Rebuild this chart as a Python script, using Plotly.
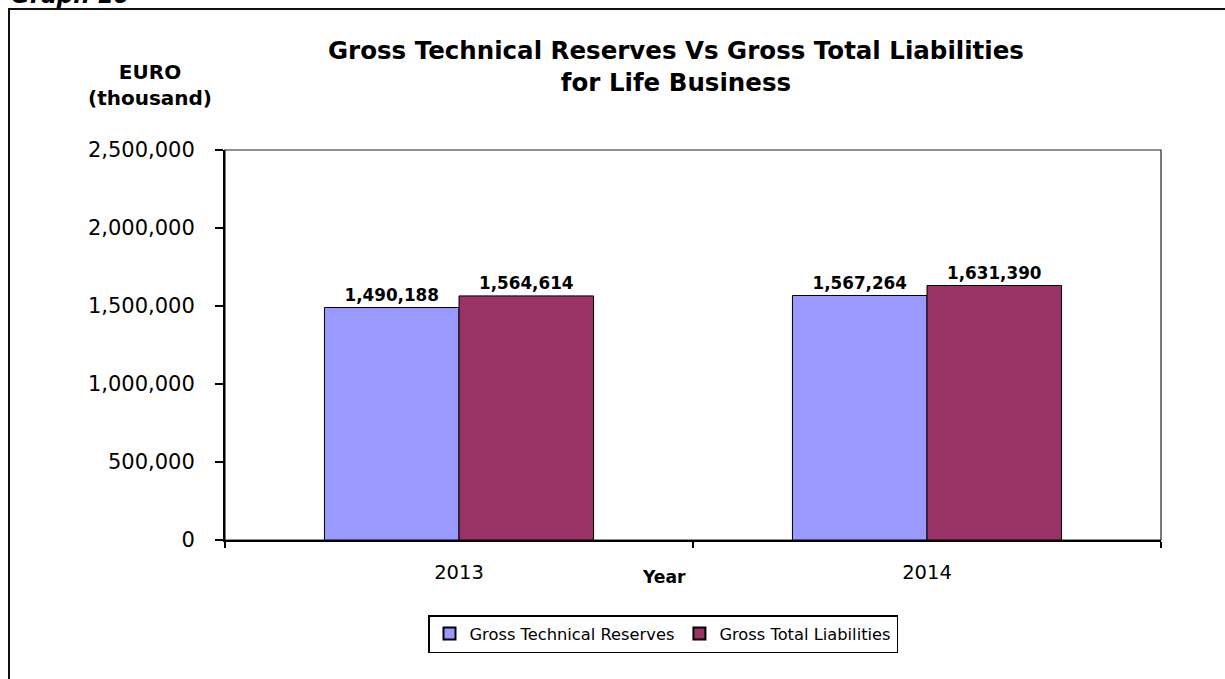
import plotly.graph_objects as go

# Life business figures, EURO thousand
years = ["2013", "2014"]
technical_reserves = [1490188, 1567264]
total_liabilities = [1564614, 1631390]

series_names = ["Gross Technical Reserves", "Gross Total Liabilities"]
series_colors = ["#9999FF", "#993366"]

y_ticks = [0, 500000, 1000000, 1500000, 2000000, 2500000]

FONT = "DejaVu Sans"

# Figure geometry in pixels (used to express outside items in paper units)
W, H = 1225, 679
L, R, T, B = 225, 64, 150, 139
PW, PH = W - L - R, H - T - B


def px_x(x):
    return (x - L) / PW


def px_y(y):
    return (H - B - y) / PH


fig = go.Figure()
for name, vals, color in zip(series_names, [technical_reserves, total_liabilities], series_colors):
    fig.add_trace(go.Bar(
        x=years,
        y=vals,
        name=name,
        marker=dict(color=color, line=dict(color="#000000", width=1)),
        texttemplate="%{y:,}",
        textposition="outside",
        textfont=dict(family=FONT, size=16.8, color="#000000", weight="bold"),
        cliponaxis=False,
    ))

fig.update_layout(
    width=W,
    height=H,
    margin=dict(l=L, r=R, t=T, b=B, pad=0),
    paper_bgcolor="#FFFFFF",
    plot_bgcolor="#FFFFFF",
    font=dict(family=FONT, color="#000000"),
    barmode="group",
    bargap=0.425,
    bargroupgap=0,
    showlegend=True,
    legend=dict(
        orientation="h",
        x=px_x(663),
        xanchor="center",
        y=px_y(615),
        yanchor="top",
        bordercolor="#000000",
        borderwidth=1.5,
        bgcolor="#FFFFFF",
        font=dict(family=FONT, size=16.3, color="#000000"),
        itemsizing="constant",
    ),
)

fig.update_xaxes(
    type="category",
    showline=True,
    linecolor="#000000",
    linewidth=2,
    ticks="outside",
    tickson="boundaries",
    ticklen=6,
    tickwidth=1.5,
    tickcolor="#000000",
    ticklabelstandoff=14,
    tickfont=dict(family=FONT, size=19.5, color="#000000"),
    showgrid=False,
    zeroline=False,
)

fig.update_yaxes(
    range=[0, 2500000],
    tickvals=y_ticks,
    tickformat=",",
    showline=True,
    linecolor="#000000",
    linewidth=2,
    ticks="outside",
    ticklen=8,
    tickwidth=1.5,
    tickcolor="#000000",
    ticklabelstandoff=16,
    tickfont=dict(family=FONT, size=21, color="#000000"),
    showgrid=False,
    zeroline=False,
)

# Plot area border (top and right edges)
fig.add_shape(type="rect", xref="paper", yref="paper", x0=0, x1=1, y0=0, y1=1,
              line=dict(color="#222222", width=1.2), layer="below")

# Outer chart frame
fig.add_shape(type="rect", xref="paper", yref="paper",
              x0=px_x(9), x1=px_x(1240), y0=px_y(690), y1=px_y(9),
              line=dict(color="#111111", width=2))

annotations = [
    dict(text="<b><i>Graph 10</i></b>", x=px_x(9), xanchor="left", y=px_y(10), yanchor="bottom",
         font=dict(family=FONT, size=23, color="#000000")),
    dict(text="<b>Gross Technical Reserves Vs Gross Total Liabilities<br>for Life Business</b>",
         x=px_x(676), xanchor="center", y=px_y(66), yanchor="middle", align="center",
         font=dict(family=FONT, size=24.5, color="#000000")),
    dict(text="<b>EURO<br>(thousand)</b>", x=px_x(150), xanchor="center",
         y=px_y(85), yanchor="middle", align="center",
         font=dict(family=FONT, size=20, color="#000000")),
    dict(text="<b>Year</b>", x=px_x(664), xanchor="center",
         y=px_y(577), yanchor="middle", font=dict(family=FONT, size=17.2, color="#000000")),
]
for a in annotations:
    fig.add_annotation(xref="paper", yref="paper", showarrow=False, **a)

fig.write_html("out.html")
